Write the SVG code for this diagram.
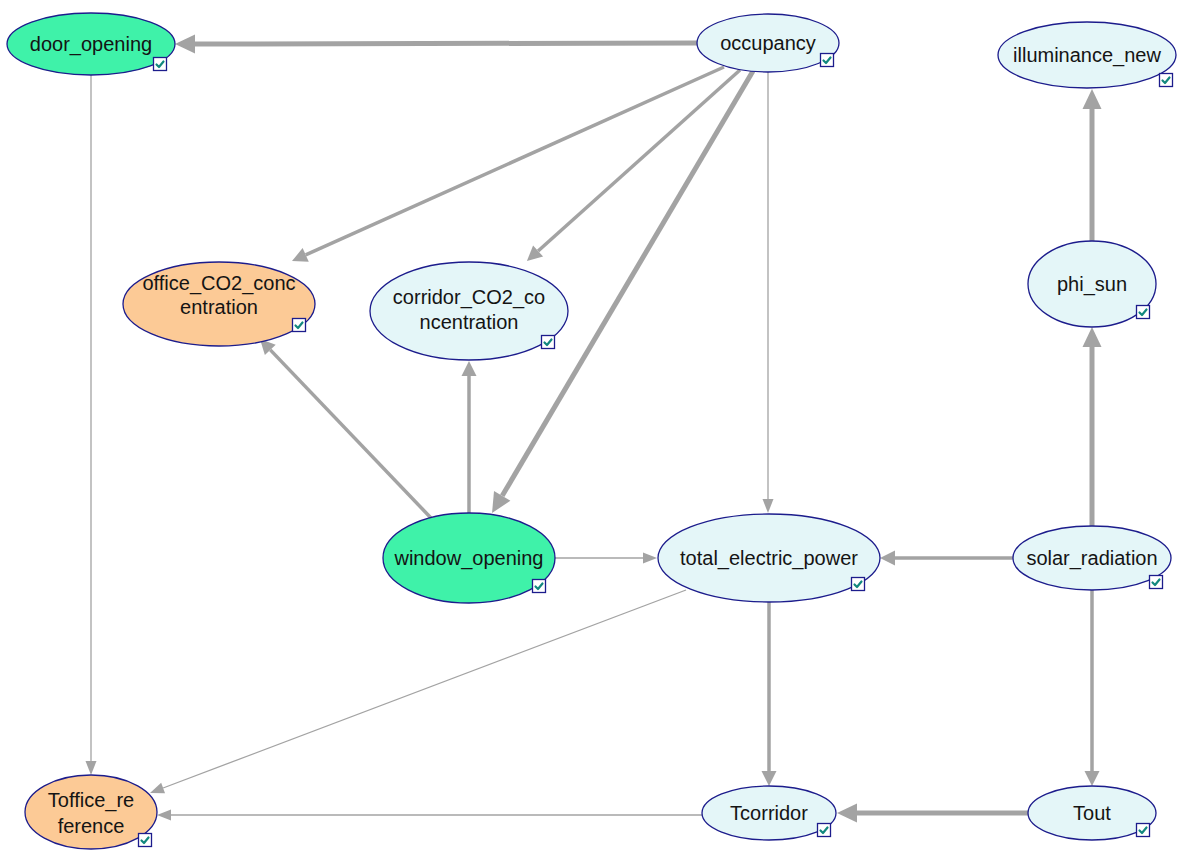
<svg xmlns="http://www.w3.org/2000/svg" xmlns:xlink="http://www.w3.org/1999/xlink" width="1184" height="856" viewBox="0 0 1184 856">
<style>
.bg{fill:#ffffff}
.node ellipse{stroke:#1c1c8c;stroke-width:1.3}
.green{fill:#3ff2a9}
.orange{fill:#fcca96}
.blue{fill:#e4f6f8}
.lbl{font-family:"Liberation Sans",Arial,sans-serif;font-size:20px;fill:#141414;text-anchor:middle}
.e{fill:none;stroke:#a3a3a3}
.thin{stroke-width:1.3;marker-end:url(#ah-thin)}
.med{stroke-width:3.5;marker-end:url(#ah-med)}
.thick{stroke-width:5;marker-end:url(#ah-thick)}
.cb{fill:#ffffff;stroke:#1c1c8c;stroke-width:1.3}
.ck{fill:none;stroke:#12887e;stroke-width:2.2;stroke-linecap:round;stroke-linejoin:round}
</style>
<defs>
<marker id="ah-thin" markerUnits="userSpaceOnUse" markerWidth="16" markerHeight="14" refX="0" refY="7" orient="auto" overflow="visible">
<path d="M0,1.5 L14,7 L0,12.5 Z" fill="#a3a3a3"/>
</marker>
<marker id="ah-med" markerUnits="userSpaceOnUse" markerWidth="17" markerHeight="16" refX="0" refY="8" orient="auto" overflow="visible">
<path d="M0,0.5 L15,8 L0,15.5 Z" fill="#a3a3a3"/>
</marker>
<marker id="ah-thick" markerUnits="userSpaceOnUse" markerWidth="22" markerHeight="20" refX="0" refY="10" orient="auto" overflow="visible">
<path d="M0,0.5 L20,10 L0,19.5 Z" fill="#a3a3a3"/>
</marker>
<g id="check">
<rect class="cb" x="0.5" y="0.5" width="13" height="13"/>
<polyline class="ck" points="3.5,7.5 6,10 10.5,4.5"/>
</g>
</defs>
<rect class="bg" x="0" y="0" width="1184" height="856"/>

<g id="connectors">
<line class="e thick" x1="697" y1="43" x2="195" y2="44"/>
<line class="e med" x1="724" y1="67" x2="305.7" y2="254.9"/>
<line class="e med" x1="740" y1="70" x2="538.1" y2="251"/>
<line class="e thick" x1="753" y1="71" x2="502.2" y2="495.8"/>
<line class="e thin" x1="768" y1="72" x2="768" y2="499"/>
<line class="e thin" x1="91" y1="75" x2="91" y2="761"/>
<line class="e med" x1="431" y1="518" x2="270.3" y2="349.9"/>
<line class="e med" x1="469" y1="513" x2="469" y2="376"/>
<line class="e thin" x1="555" y1="558" x2="643" y2="558"/>
<line class="e med" x1="1013" y1="558" x2="895" y2="558"/>
<line class="e thick" x1="1092" y1="526" x2="1092" y2="347"/>
<line class="e thick" x1="1092" y1="241" x2="1092" y2="109"/>
<line class="e med" x1="1092" y1="590" x2="1092" y2="771"/>
<line class="e med" x1="769" y1="602" x2="769" y2="771"/>
<line class="e thin" x1="686" y1="590" x2="163.1" y2="788"/>
<line class="e thick" x1="1028" y1="813" x2="857" y2="813"/>
<line class="e thin" x1="702" y1="815" x2="171" y2="815"/>
</g>

<g id="door_opening" class="node">
<ellipse class="green" cx="91" cy="44" rx="84" ry="31"/>
<text class="lbl" x="91" y="51">door_opening</text>
<use xlink:href="#check" x="153" y="57"/>
</g>
<g id="occupancy" class="node">
<ellipse class="blue" cx="768" cy="43" rx="71" ry="29"/>
<text class="lbl" x="768" y="50">occupancy</text>
<use xlink:href="#check" x="820" y="53"/>
</g>
<g id="illuminance_new" class="node">
<ellipse class="blue" cx="1087" cy="55" rx="89" ry="33"/>
<text class="lbl" x="1087" y="62">illuminance_new</text>
<use xlink:href="#check" x="1159" y="73"/>
</g>
<g id="office_CO2_concentration" class="node">
<ellipse class="orange" cx="219" cy="304" rx="96" ry="42"/>
<text class="lbl" x="219" y="290">office_CO2_conc</text>
<text class="lbl" x="219" y="314">entration</text>
<use xlink:href="#check" x="292" y="318"/>
</g>
<g id="corridor_CO2_concentration" class="node">
<ellipse class="blue" cx="469" cy="311" rx="99" ry="49"/>
<text class="lbl" x="469" y="304">corridor_CO2_co</text>
<text class="lbl" x="469" y="329">ncentration</text>
<use xlink:href="#check" x="541" y="335"/>
</g>
<g id="phi_sun" class="node">
<ellipse class="blue" cx="1092" cy="284" rx="64" ry="43"/>
<text class="lbl" x="1092" y="291">phi_sun</text>
<use xlink:href="#check" x="1136" y="305"/>
</g>
<g id="window_opening" class="node">
<ellipse class="green" cx="469" cy="558" rx="86" ry="45"/>
<text class="lbl" x="469" y="565">window_opening</text>
<use xlink:href="#check" x="532" y="579"/>
</g>
<g id="total_electric_power" class="node">
<ellipse class="blue" cx="769" cy="558" rx="111" ry="44"/>
<text class="lbl" x="769" y="565">total_electric_power</text>
<use xlink:href="#check" x="851" y="577"/>
</g>
<g id="solar_radiation" class="node">
<ellipse class="blue" cx="1092" cy="558" rx="79" ry="32"/>
<text class="lbl" x="1092" y="565">solar_radiation</text>
<use xlink:href="#check" x="1149" y="575"/>
</g>
<g id="Tcorridor" class="node">
<ellipse class="blue" cx="769" cy="813" rx="67" ry="27"/>
<text class="lbl" x="769" y="820">Tcorridor</text>
<use xlink:href="#check" x="817" y="823"/>
</g>
<g id="Tout" class="node">
<ellipse class="blue" cx="1092" cy="813" rx="64" ry="27"/>
<text class="lbl" x="1092" y="820">Tout</text>
<use xlink:href="#check" x="1136" y="823"/>
</g>
<g id="Toffice_reference" class="node">
<ellipse class="orange" cx="91" cy="812" rx="66" ry="37"/>
<text class="lbl" x="91" y="807">Toffice_re</text>
<text class="lbl" x="91" y="833">ference</text>
<use xlink:href="#check" x="138" y="833"/>
</g>
</svg>
